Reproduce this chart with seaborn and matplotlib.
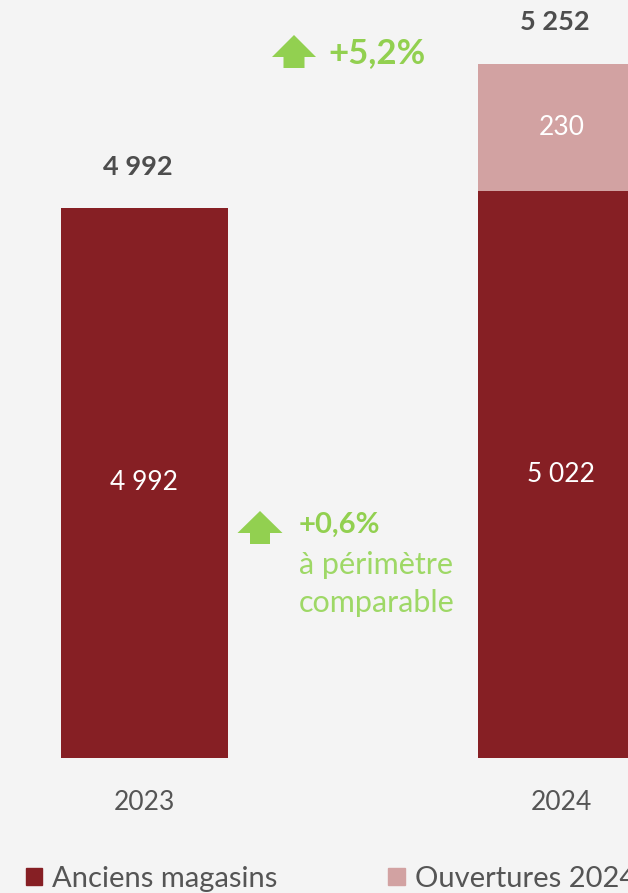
import matplotlib
matplotlib.use("Agg")
import matplotlib.pyplot as plt
import seaborn as sns
import pandas as pd
from matplotlib.patches import Polygon, Patch

annees = ["2023", "2024"]
anciens = [4992, 5022]
ouvertures = [0, 230]
totaux = [a + o for a, o in zip(anciens, ouvertures)]
series = ["Anciens magasins", "Ouvertures 2024"]
hausse_totale = "+5,2%"
hausse_comparable = "+0,6%"
note_comparable = ["à périmètre", "comparable"]

ROUGE = "#861f24"
ROSE = "#d2a2a2"
VERT = "#92d050"
VERT_CLAIR = "#9ed866"
GRIS = "#4d4d4d"
GRIS_CLAIR = "#555555"
FOND = "#f4f4f4"

sns.set_theme(style="white")
plt.rcParams["font.family"] = ["Lato", "DejaVu Sans"]

W, H = 628, 893


def px(x, y):
    # pixels (origine en haut à gauche) -> fraction de figure
    return (x / W, 1 - y / H)


def fmt(v):
    return f"{v:,}".replace(",", " ")


def fleche(fig, cx, haut, larg, tete, tige, bas):
    pts = [(cx, haut), (cx + larg / 2, haut + tete), (cx + tige / 2, haut + tete),
           (cx + tige / 2, bas), (cx - tige / 2, bas), (cx - tige / 2, haut + tete),
           (cx - larg / 2, haut + tete)]
    fig.patches.append(Polygon([px(x, y) for x, y in pts], closed=True,
                               transform=fig.transFigure, color=VERT, lw=0))


fig = plt.figure(figsize=(W / 100, H / 100), dpi=100, facecolor=FOND)
ax = fig.add_axes([0, (H - 758) / H, 1, 758 / H])
ax.set_facecolor(FOND)

df = pd.DataFrame({"annee": annees, "anciens": anciens, "total": totaux})
sns.barplot(data=df, x="annee", y="total", color=ROSE, saturation=1, width=0.4,
            errorbar=None, linewidth=0, ax=ax)
sns.barplot(data=df, x="annee", y="anciens", color=ROUGE, saturation=1, width=0.4,
            errorbar=None, linewidth=0, ax=ax)

ax.set_ylim(4000, 5367)
ax.set_xlim(-0.3465, 1.1595)
y0 = ax.get_ylim()[0]

for i in range(len(annees)):
    ax.text(i, (y0 + anciens[i]) / 2, fmt(anciens[i]), color="white",
            ha="center", va="center", fontsize=19)
    if ouvertures[i]:
        ax.text(i, anciens[i] + ouvertures[i] / 2, fmt(ouvertures[i]), color="white",
                ha="center", va="center", fontsize=19)
    ax.annotate(fmt(totaux[i]), xy=(i, totaux[i]), xytext=(-5, 24),
                textcoords="offset points", ha="center", va="baseline",
                fontsize=19.5, fontweight="bold", color=GRIS)

ax.set_xlabel("")
ax.set_ylabel("")
ax.set_yticks([])
ax.tick_params(axis="x", length=0, pad=23, labelsize=19, labelcolor=GRIS_CLAIR)
sns.despine(ax=ax, left=True, bottom=True)

# hausse totale
fleche(fig, 294, 35, 44, 22, 21, 68)
fig.text(*px(328, 53), hausse_totale, ha="left", va="center", fontsize=25,
         fontweight="bold", color=VERT)

# hausse à périmètre comparable
fleche(fig, 260, 511, 45, 22, 20, 544)
fig.text(*px(299, 525), hausse_comparable, ha="left", va="center", fontsize=21,
         fontweight="bold", color=VERT)
for k, ligne in enumerate(note_comparable):
    fig.text(*px(299, 565 + 38 * k), ligne, ha="left", va="center", fontsize=22,
             color=VERT_CLAIR)

fig.legend(handles=[Patch(color=ROUGE), Patch(color=ROSE)], labels=series,
           loc="upper left", bbox_to_anchor=px(26, 866), ncol=2, frameon=False,
           fontsize=21, handlelength=0.55, handleheight=0.55, handletextpad=0.35,
           columnspacing=3.8, borderpad=0, borderaxespad=0, labelcolor=GRIS_CLAIR)

fig.savefig("out.png", dpi=100, facecolor=FOND)
